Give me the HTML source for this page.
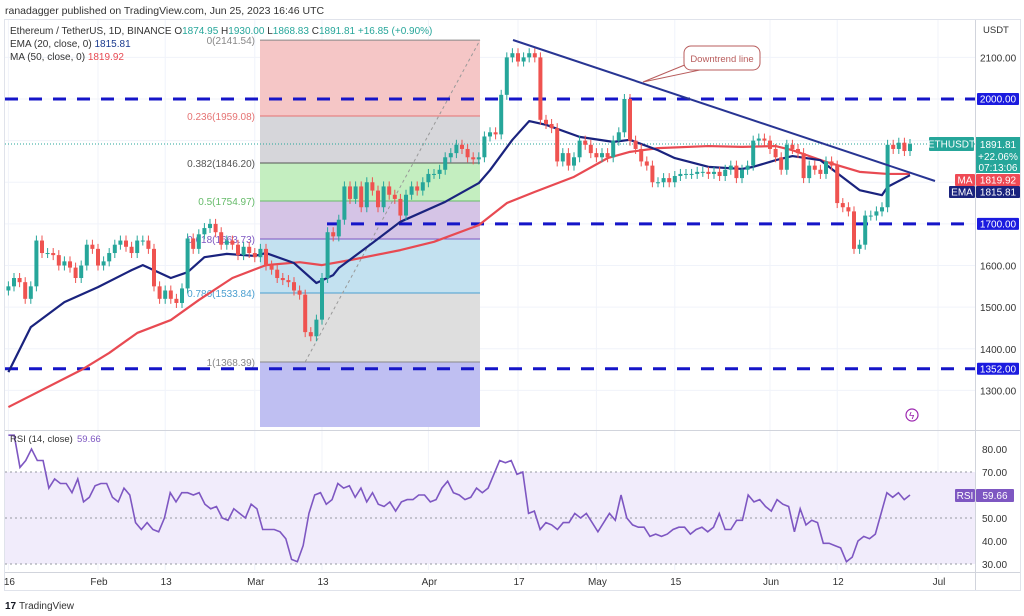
<!DOCTYPE html>
<html><head><meta charset="utf-8">
<style>
body{margin:0;background:#fff;width:1024px;height:616px;overflow:hidden;font-family:"Liberation Sans",sans-serif}
svg{display:block}
text{font-family:"Liberation Sans",sans-serif}
</style></head>
<body>
<svg id="c" width="1024" height="616" viewBox="0 0 1024 616"></svg>
<script>
// ---- data ----
const closes = [
1550,1570,1560,1520,1550,1660,1630,1630,1625,1600,1610,1595,1570,1600,1650,1640,1600,
1610,1630,1650,1660,1645,1630,1660,1660,1640,1550,1520,1540,1520,1510,1545,1665,1640,1675,1690,1700,1680,1650,1660,1650,1625,1645,1630,1620,
1640,1600,1590,1570,1565,1560,1540,1530,1440,1430,1470,1570,1680,1670,1710,1790,1760,1790,1740,1800,1780,1740,1790,1770,1760,1720,1770,1790,1780,1800,1820,
1820,1830,1860,1870,1890,1880,1860,1855,1860,1910,1920,1915,2010,2100,2110,2090,2100,2110,2100,1950,1940,1930,1850,1870,1840,1860,1900,1890,1870,1860,
1870,1860,1900,1920,2000,1900,1880,1850,1840,1800,1800,1810,1800,1815,1820,1820,1820,1825,1825,1820,1825,1815,1830,1840,1810,1830,1840,1900,1905,1900,1880,
1860,1830,1890,1880,1870,1810,1840,1830,1820,1850,1840,1750,1740,1730,1640,1650,1720,1720,1730,1740,1890,1880,1895,1875,1892];
const firstOpen = 1540;
const emaDays = [0,4,10,16,22,24,29,32,35,39,44,46,51,55,58,59,65,70,78,84,86,90,93,96,102,108,111,116,119,125,131,133,137,140,145,148,152,156,157,161];
const emaVals = [1344,1452,1512,1548,1589,1601,1570,1584,1620,1628,1623,1630,1606,1558,1577,1594,1654,1705,1753,1798,1829,1902,1947,1938,1909,1897,1902,1877,1858,1837,1832,1837,1853,1863,1853,1822,1781,1769,1789,1817];
const maDays = [0,13,18,23,29,34,40,46,52,56,61,70,76,84,89,94,101,107,111,116,125,131,137,140,146,152,157,161];
const maVals = [1260,1349,1390,1438,1469,1517,1570,1601,1608,1601,1613,1637,1657,1697,1750,1777,1813,1858,1873,1882,1887,1885,1887,1877,1849,1825,1820,1820];
const rsiVals = [86,86,72,75,80,75,75,63,67,65,65,61,67,57,59,64,65,65,59,57,63,60,48,45,48,45,44,50,61,57,61,61,60,61,56,54,55,50,49,54,52,50,56,54,45,45,45,44,41,32,31,38,52,60,61,56,58,65,63,64,59,63,57,61,56,55,57,53,57,58,58,60,60,57,58,63,66,61,60,58,59,63,61,63,69,75,74,75,69,70,52,53,45,48,47,45,48,48,52,50,52,48,44,48,52,49,60,50,47,46,46,42,43,42,43,45,46,46,43,45,46,44,46,52,45,45,49,49,60,57,58,55,53,58,56,55,44,54,47,49,48,39,39,38,37,31,33,40,42,41,43,52,61,59,61,58,60];
const priceTicks = [2100,2000,1700,1600,1500,1400,1300];
const rsiTicks = [80,70,50,40,30];
const dateLabels = ["16","Feb","13","Mar","13","Apr","17","May","15","Jun","12","Jul"];
const dateDays = [1,17,29,45,57,76,92,106,120,137,149,167];
const fibLevels = [0,0.236,0.382,0.5,0.618,0.786,1];
const fibHigh = 2141.54, fibLow = 1368.39;

// ---- scales ----
const X = d => 8.4 + d*5.6;
const Y = p => 99 + (2000-p)*0.4163;
const RY = v => 472 + (70-v)*2.3;
const svg = document.getElementById('c');
const NS = 'http://www.w3.org/2000/svg';
function mk(tag, at, parent){const e=document.createElementNS(NS,tag);for(const k in at)e.setAttribute(k,at[k]);(parent||svg).appendChild(e);return e;}
function tx(s,x,y,opt,parent){const e=mk('text',Object.assign({x:x,y:y,'font-size':10,fill:'#131722'},opt||{}),parent);e.textContent=s;return e;}
function line(parts,x,y,parent){
  const e=mk('text',{x:x,y:y,'font-size':10},parent);
  parts.forEach(p=>{const s=mk('tspan',{fill:p[1]},e);s.textContent=p[0];});
  return e;
}

// header
let t=tx('ranadagger published on TradingView.com, Jun 25, 2023 16:46 UTC',5,14,{'font-size':10.5,fill:'#333'});

mk('rect',{x:4.5,y:19.5,width:1016,height:571,fill:'none',stroke:'#e0e3eb'});

// grid
const grid = mk('g',{stroke:'#f0f3fa','stroke-width':1});

dateDays.forEach(d=>{mk('line',{x1:X(d-1),x2:X(d-1),y1:20,y2:570},grid);});
[2100,2000,1900,1800,1700,1600,1500,1400,1300].forEach(p=>mk('line',{x1:5,x2:975,y1:Y(p),y2:Y(p)},grid));

// fib box
const fibColors=['#f5c6c6','#d6d6da','#c4eec0','#d5c4e6','#c3e1f0','#dedede'];
const fibLabelCol=['#888','#e57373','#555','#66bb6a','#7e57c2','#4a9fd0','#888'];
const fx1=260,fx2=480;
const fibG=mk('g',{});
for(let i=0;i<fibLevels.length-1;i++){
  const pa=fibHigh-(fibHigh-fibLow)*fibLevels[i], pb=fibHigh-(fibHigh-fibLow)*fibLevels[i+1];
  mk('rect',{x:fx1,y:Y(pa),width:fx2-fx1,height:Y(pb)-Y(pa),fill:fibColors[i]},fibG);
}
mk('rect',{x:fx1,y:Y(fibLow),width:fx2-fx1,height:427-Y(fibLow),fill:'#bfbff2'},fibG);
fibLevels.forEach((l,i)=>{
  const p=fibHigh-(fibHigh-fibLow)*l;
  mk('line',{x1:fx1,x2:fx2,y1:Y(p),y2:Y(p),stroke:fibLabelCol[i],'stroke-width':1},fibG);
  const e=tx(l+'('+p.toFixed(2)+')',255,Y(p)+4,{'text-anchor':'end',fill:fibLabelCol[i],'font-size':10},fibG);
  
});
mk('line',{x1:X(53),y1:Y(fibLow),x2:fx2,y2:Y(fibHigh),stroke:'#999','stroke-dasharray':'3 3'},fibG);

// dashed levels
const lv=mk('g',{stroke:'#1515c8','stroke-width':3,'stroke-dasharray':'13 11'});

mk('line',{x1:5,x2:975,y1:Y(2000),y2:Y(2000)},lv);
mk('line',{x1:327,x2:975,y1:Y(1700),y2:Y(1700)},lv);
mk('line',{x1:5,x2:975,y1:Y(1352),y2:Y(1352)},lv);

// last price dotted
mk('line',{x1:5,x2:975,y1:Y(1891.81),y2:Y(1891.81),stroke:'#26a69a','stroke-dasharray':'1 2','stroke-width':1});

// MA / EMA
function poly(days,vals,col,name){
  const e=mk('polyline',{points:days.map((d,i)=>X(d)+','+Y(vals[i])).join(' '),fill:'none',stroke:col,'stroke-width':2.2,'stroke-linejoin':'round'});
  
}
poly(maDays,maVals,'#e84a52','ma50-line');
poly(emaDays,emaVals,'#1a237e','ema20-line');

// candles
const cg=mk('g',{});
closes.forEach((c,i)=>{
  const o=i?closes[i-1]:firstOpen;
  const up=c>=o, col=up?'#26a69a':'#ef5350';
  const hi=Math.max(o,c)+12, lo=Math.min(o,c)-12;
  const x=X(i);
  const g=mk('g',{},cg);
  
  
  mk('line',{x1:x,x2:x,y1:Y(hi),y2:Y(lo),stroke:col,'stroke-width':1},g);
  const yt=Y(Math.max(o,c)),yb=Y(Math.min(o,c));
  mk('rect',{x:x-2,y:yt,width:4,height:Math.max(1,yb-yt),fill:col},g);
});

// downtrend line + callout
const dl=mk('line',{x1:513,y1:40,x2:935,y2:181,stroke:'#283593','stroke-width':2});

const co=mk('g',{});
mk('path',{d:'M643 82 L692 62 L700 70 Z',stroke:'#b85c5c',fill:'#fff','stroke-width':1},co);
mk('rect',{x:684,y:46,width:76,height:24,rx:7,fill:'#fff',stroke:'#b85c5c','stroke-width':1},co);
tx('Downtrend line',722,62,{'text-anchor':'middle',fill:'#b85c5c','font-size':9.5},co);

// lightning icon
const li=mk('g',{});
mk('circle',{cx:912,cy:415,r:6,fill:'none',stroke:'#9c27b0','stroke-width':1.2},li);
tx('ϟ',909,419,{fill:'#9c27b0','font-size':10},li);

// legend top-left
const lg=mk('g',{});
line([['Ethereum / TetherUS, 1D, BINANCE  ','#333'],['O','#333'],['1874.95  ','#26a69a'],['H','#333'],['1930.00  ','#26a69a'],['L','#333'],['1868.83  ','#26a69a'],['C','#333'],['1891.81  +16.85 (+0.90%)','#26a69a']],10,34,lg).setAttribute('xml:space','preserve');
line([['EMA (20, close, 0)  ','#333'],['1815.81','#1a3a8e']],10,47,lg).setAttribute('xml:space','preserve');
line([['MA (50, close, 0)  ','#333'],['1819.92','#e84a52']],10,60,lg).setAttribute('xml:space','preserve');

// price axis
mk('line',{x1:975.5,x2:975.5,y1:20,y2:590,stroke:'#d1d4dc'});
tx('USDT',983,33,{fill:'#333','font-size':9.5});
const pa=mk('g',{});
priceTicks.forEach(p=>{if(p!==2000&&p!==1700)tx(p.toFixed(2),980,Y(p)+4,{fill:'#333','font-size':10},pa);});
function badge(x,y,w,h,fill,label,name,tcol){
  const g=mk('g',{});
  mk('rect',{x:x,y:y,width:w,height:h,fill:fill,rx:1},g);
  tx(label,x+w/2,y+h/2+3.5,{fill:tcol||'#fff','font-size':10,'text-anchor':'middle'},g);return g;
}
badge(977,Y(2000)-6,42,12,'#1b1bdf','2000.00','badge-2000');
badge(977,Y(1700)-6,42,12,'#1b1bdf','1700.00','badge-1700');
badge(977,Y(1352)-6,42,12,'#1b1bdf','1352.00','badge-1352');
badge(929,137,45,14,'#26a69a','ETHUSDT','badge-symbol');
const pb=mk('g',{});
mk('rect',{x:976,y:137,width:44,height:36,fill:'#26a69a'},pb);
tx('1891.81',998,148,{fill:'#fff','font-size':10,'text-anchor':'middle'},pb);
tx('+22.06%',998,160,{fill:'#fff','font-size':10,'text-anchor':'middle'},pb);
tx('07:13:06',998,171,{fill:'#fff','font-size':10,'text-anchor':'middle'},pb);
badge(955,174,20,12,'#ef4a55','MA','badge-ma-label');
badge(976,174,44,12,'#ef4a55','1819.92','badge-ma');
badge(949,186,26,12,'#1a237e','EMA','badge-ema-label');
badge(976,186,44,12,'#1a237e','1815.81','badge-ema');

// pane separator
mk('line',{x1:5,x2:1020,y1:430.5,y2:430.5,stroke:'#d1d4dc'});

// RSI pane
const rp=mk('g',{});
mk('rect',{x:5,y:RY(70),width:970,height:RY(30)-RY(70),fill:'#f1ecfb'},rp);
[70,50,30].forEach(v=>mk('line',{x1:5,x2:975,y1:RY(v),y2:RY(v),stroke:'#9598a1','stroke-dasharray':'2 3'},rp));
const n=rsiVals.length;
const rl=mk('polyline',{points:rsiVals.map((v,i)=>X(i*(closes.length-1)/(n-1))+','+RY(v)).join(' '),fill:'none',stroke:'#7e57c2','stroke-width':1.6},rp);

tx('RSI (14, close)',10,442,{fill:'#333','font-size':9.5},rp);tx('59.66',77,442,{fill:'#7e57c2','font-size':9.5},rp);
rsiTicks.forEach(v=>tx(v.toFixed(2),982,RY(v)+4,{fill:'#333','font-size':10},rp));
badge(955,489,20,13,'#7e57c2','RSI','badge-rsi-label');
badge(976,489,38,13,'#7e57c2','59.66','badge-rsi');

// date axis
mk('line',{x1:5,x2:1020,y1:572.5,y2:572.5,stroke:'#d1d4dc'});
const da=mk('g',{});
dateLabels.forEach((s,i)=>tx(s,X(dateDays[i]-1)+1,585,{fill:'#333','font-size':10,'text-anchor':'middle'},da));

// footer
const ft=mk('g',{});
tx('17',5,609,{fill:'#131722','font-size':10,'font-weight':'bold'},ft);
tx('TradingView',19,609,{fill:'#333','font-size':10},ft);
</script>
</body></html>
